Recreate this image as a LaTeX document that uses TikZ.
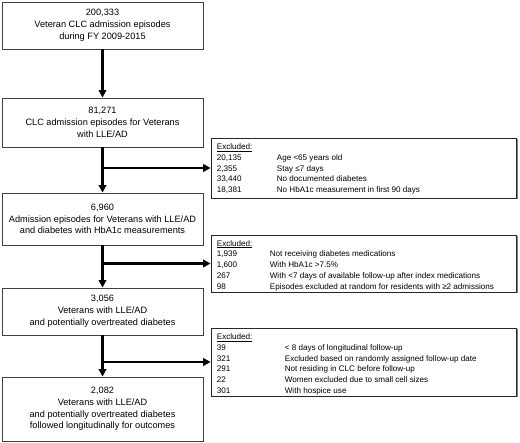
\documentclass[tikz,border=0pt]{standalone}
\usepackage{fontspec}
\setmainfont{Liberation Sans}
\usetikzlibrary{arrows.meta}
\begin{document}
\begin{tikzpicture}[x=1pt,y=-1pt,
  mainbox/.style={draw=black!75, line width=0.8pt, fill=white, minimum width=201pt, align=center, inner sep=0pt, font=\fontsize{9.2}{11.8}\selectfont},
  exbox/.style={draw=black!85, line width=0.7pt, fill=white, minimum width=305pt, inner sep=0pt},
  shadowbox/.style={fill=black!50, draw=none, minimum width=305pt, inner sep=0pt},
  extext/.style={anchor=north west, inner sep=0pt, align=left, font=\fontsize{8.1}{10.7}\selectfont},
  flow/.style={line width=2.2pt, -{Triangle[length=7.5pt,width=7.5pt]}},
]
\useasboundingbox (0,0) rectangle (520,443);
\fill[white] (0,0) rectangle (520,443);

% main boxes
\node[mainbox, minimum height=47pt] (b1) at (102.5,25.5) {200,333\\Veteran CLC admission episodes\\during FY 2009-2015};
\node[mainbox, minimum height=49pt] (b2) at (102.5,122.5) {81,271\\CLC admission episodes for Veterans\\with LLE/AD};
\node[mainbox, minimum height=52pt] (b3) at (102.5,219) {6,960\\Admission episodes for Veterans with LLE/AD\\and diabetes with HbA1c measurements};
\node[mainbox, minimum height=47pt] (b4) at (102.5,311.5) {3,056\\Veterans with LLE/AD\\and potentially overtreated diabetes};
\node[mainbox, minimum height=64pt] (b5) at (102.5,409) {2,082\\Veterans with LLE/AD\\and potentially overtreated diabetes\\followed longitudinally for outcomes};

% excluded boxes
\node[shadowbox, minimum height=60pt] (s1) at (365,169.5) {};
\node[exbox, minimum height=60pt] (e1) at (363.5,168) {};
\node[shadowbox, minimum height=57pt] (s2) at (365,265) {};
\node[exbox, minimum height=57pt] (e2) at (363.5,263.5) {};
\node[shadowbox, minimum height=68pt] (s3) at (365,363.5) {};
\node[exbox, minimum height=68pt] (e3) at (363.5,362) {};

\node[extext] (t1) at ([xshift=6pt,yshift=-6pt]e1.north west) {\underline{Excluded:}\\
\makebox[60pt][l]{20,135}Age <65 years old\\
\makebox[60pt][l]{2,355}Stay ≤7 days\\
\makebox[60pt][l]{33,440}No documented diabetes\\
\makebox[60pt][l]{18,381}No HbA1c measurement in first 90 days};

\node[extext] (t2) at ([xshift=6pt,yshift=-5.5pt]e2.north west) {\underline{Excluded:}\\
\makebox[53pt][l]{1,939}Not receiving diabetes medications\\
\makebox[53pt][l]{1,600}With HbA1c >7.5\%\\
\makebox[53pt][l]{267}With <7 days of available follow-up after index medications\\
\makebox[53pt][l]{98}Episodes excluded at random for residents with ≥2 admissions};

\node[extext] (t3) at ([xshift=6pt,yshift=-6pt]e3.north west) {\underline{Excluded:}\\
\makebox[68pt][l]{39}< 8 days of longitudinal follow-up\\
\makebox[68pt][l]{321}Excluded based on randomly assigned follow-up date\\
\makebox[68pt][l]{291}Not residing in CLC before follow-up\\
\makebox[68pt][l]{22}Women excluded due to small cell sizes\\
\makebox[68pt][l]{301}With hospice use};

% branch points
\coordinate (c1) at (b2.south |- e1.west);
\coordinate (c2) at (b3.south |- e2.west);
\coordinate (c3) at (b4.south |- e3.west);

% connectors
\draw[flow] (b1.south) -- (b2.north);
\draw[flow] (b2.south) -- (b3.north);
\draw[flow] (b3.south) -- (b4.north);
\draw[flow] (b4.south) -- (b5.north);
\draw[flow] ([xshift=-1.1pt]c1) -- (e1.west);
\draw[flow] ([xshift=-1.1pt]c2) -- (e2.west);
\draw[flow] ([xshift=-1.1pt]c3) -- (e3.west);
\end{tikzpicture}
\end{document}
